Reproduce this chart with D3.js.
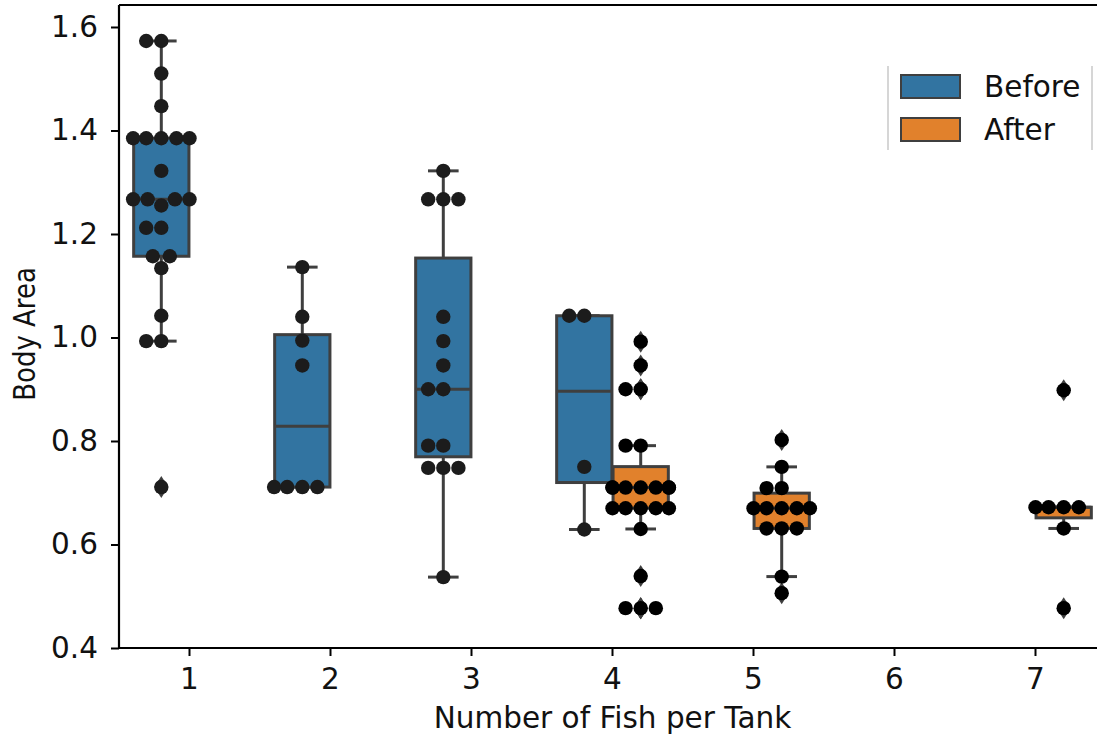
<!DOCTYPE html>
<html>
<head>
<meta charset="utf-8">
<script src="https://cdn.jsdelivr.net/npm/d3@7"></script>
<style>
body { margin: 0; background: #fff; }
text { font-family: "DejaVu Sans", sans-serif; }
</style>
</head>
<body>
<script>
var width = 1097,
    height = 736;

// data
var categories = ["1", "2", "3", "4", "5", "6", "7"];
var hues = ["Before", "After"];
var hueColors = ["#3274a1", "#e1812c"];
var yTicks = [0.4, 0.6, 0.8, 1.0, 1.2, 1.4, 1.6];

var before1 = [1.573, 1.573, 1.51, 1.447, 1.385, 1.385, 1.385, 1.385, 1.385, 1.322,
               1.267, 1.267, 1.267, 1.267, 1.255, 1.212, 1.212, 1.157, 1.157, 1.134,
               1.042, 0.993, 0.993, 0.711];
var before2 = [1.136, 1.040, 0.994, 0.946, 0.711, 0.711, 0.711, 0.711];
var before3 = [1.322, 1.267, 1.267, 1.267, 1.040, 0.993, 0.946, 0.90, 0.90, 0.791,
               0.791, 0.748, 0.748, 0.748, 0.537];
var before4 = [1.042, 1.042, 0.750, 0.629];
var after4 = [0.992, 0.946, 0.90, 0.90, 0.791, 0.791, 0.71, 0.71, 0.71, 0.71, 0.71,
              0.71, 0.71, 0.67, 0.67, 0.67, 0.67, 0.67, 0.63, 0.539, 0.477, 0.477, 0.477];
var after5 = [0.802, 0.750, 0.709, 0.709, 0.67, 0.67, 0.67, 0.67, 0.67, 0.631, 0.631,
              0.631, 0.538, 0.506];
var after7 = [0.898, 0.672, 0.672, 0.672, 0.672, 0.631, 0.477];

var groups = [
    {cat: "1", hue: "Before", values: before1},
    {cat: "2", hue: "Before", values: before2},
    {cat: "3", hue: "Before", values: before3},
    {cat: "4", hue: "Before", values: before4},
    {cat: "4", hue: "After", values: after4},
    {cat: "5", hue: "After", values: after5},
    {cat: "7", hue: "After", values: after7}
];

var margin = {left: 119, right: 1106, top: 5, bottom: 648};
var gray = "#3f3f3f";
var fontSize = "29.5px";

var svg = d3.select("body").append("svg")
    .attr("width", width)
    .attr("height", height);

var x = d3.scaleBand().domain(categories).range([margin.left, margin.right]);
var bw = x.bandwidth();
var hueX = d3.scalePoint().domain(hues).range([-0.2 * bw, 0.2 * bw]);
var color = d3.scaleOrdinal().domain(hues).range(hueColors);
var y = d3.scaleLinear().domain([0.4, 1.6425]).range([margin.bottom, margin.top]);

var boxW = 0.392 * bw;
var dotR = 7.2;

function stats(values) {
    var s = values.slice().sort(d3.ascending);
    var q1 = d3.quantile(s, 0.25), med = d3.quantile(s, 0.5), q3 = d3.quantile(s, 0.75);
    var iqr = q3 - q1;
    var lo = d3.min(s.filter(function(v) { return v >= q1 - 1.5 * iqr; }));
    var hi = d3.max(s.filter(function(v) { return v <= q3 + 1.5 * iqr; }));
    var fliers = s.filter(function(v) { return v < lo || v > hi; });
    return {q1: q1, med: med, q3: q3, lo: lo, hi: hi, fliers: fliers};
}

// seaborn-like beeswarm in pixel space
function beeswarm(values, cx, d, half) {
    var pts = values.slice().sort(d3.ascending).map(function(v) { return [cx, y(v)]; });
    var placed = [pts[0]];
    for (var i = 1; i < pts.length; i++) {
        var yi = pts[i][1];
        var neighbors = [];
        for (var j = placed.length - 1; j >= 0; j--) {
            if (Math.abs(placed[j][1] - yi) < d) neighbors.push(placed[j]);
            else break;
        }
        neighbors.reverse();
        var cands = [[cx, yi]];
        var leftFirst = true;
        neighbors.forEach(function(p) {
            var dy = yi - p[1];
            var dx = Math.sqrt(Math.max(d * d - dy * dy, 0)) * 1.05;
            var cl = [p[0] - dx, yi], cr = [p[0] + dx, yi];
            if (leftFirst) cands.push(cl, cr); else cands.push(cr, cl);
            leftFirst = !leftFirst;
        });
        cands = cands.map(function(c, k) { return {c: c, k: k}; })
            .sort(function(a, b) {
                return (Math.abs(a.c[0] - cx) - Math.abs(b.c[0] - cx)) || (a.k - b.k);
            })
            .map(function(o) { return o.c; });
        var pick = cands.find(function(c) {
            return neighbors.every(function(p) {
                var ddx = c[0] - p[0], ddy = c[1] - p[1];
                return ddx * ddx + ddy * ddy >= d * d - 1e-6;
            });
        });
        placed.push(pick || cands[cands.length - 1]);
    }
    return placed.map(function(p) {
        return [Math.max(cx - half, Math.min(cx + half, p[0])), p[1]];
    });
}

// axes
var yAxis = svg.append("g")
    .attr("transform", "translate(" + margin.left + ",0)")
    .call(d3.axisLeft(y).tickValues(yTicks).tickFormat(d3.format(".1f")).tickSize(8).tickPadding(13));
var xAxis = svg.append("g")
    .attr("transform", "translate(0," + margin.bottom + ")")
    .call(d3.axisBottom(x).tickSize(8).tickPadding(12));
[yAxis, xAxis].forEach(function(a) {
    a.select(".domain").remove();
    a.selectAll(".tick line").attr("stroke", "#000").attr("stroke-width", 2);
    a.selectAll(".tick text").attr("fill", "#111").style("font-size", fontSize)
        .style("font-family", "'DejaVu Sans', sans-serif");
});

svg.append("line").attr("x1", margin.left).attr("x2", margin.left)
    .attr("y1", margin.top).attr("y2", margin.bottom)
    .attr("stroke", "#000").attr("stroke-width", 2.2);
svg.append("line").attr("x1", margin.left).attr("x2", margin.right)
    .attr("y1", margin.bottom).attr("y2", margin.bottom)
    .attr("stroke", "#000").attr("stroke-width", 2.2);
svg.append("line").attr("x1", margin.left).attr("x2", margin.right)
    .attr("y1", margin.top).attr("y2", margin.top)
    .attr("stroke", "#000").attr("stroke-width", 2.2);

svg.append("text")
    .attr("x", (margin.left + margin.right) / 2)
    .attr("y", 728)
    .attr("text-anchor", "middle")
    .style("font-size", fontSize)
    .attr("fill", "#111")
    .text("Number of Fish per Tank");

svg.append("text")
    .attr("transform", "translate(35,334) rotate(-90) scale(1,1.15)")
    .attr("text-anchor", "middle")
    .style("font-size", "26px")
    .attr("fill", "#111")
    .text("Body Area");

// boxes
svg.selectAll(".box")
    .data(groups)
    .enter().append("g")
    .attr("class", "box")
    .each(function(d) {
        var g = d3.select(this);
        var s = stats(d.values);
        var cx = x(d.cat) + bw / 2 + hueX(d.hue);
        d.cx = cx;
        g.append("line").attr("x1", cx).attr("x2", cx)
            .attr("y1", y(s.q3)).attr("y2", y(s.hi))
            .attr("stroke", gray).attr("stroke-width", 3);
        g.append("line").attr("x1", cx).attr("x2", cx)
            .attr("y1", y(s.q1)).attr("y2", y(s.lo))
            .attr("stroke", gray).attr("stroke-width", 3);
        [s.hi, s.lo].forEach(function(v) {
            g.append("line").attr("x1", cx - boxW / 4).attr("x2", cx + boxW / 4)
                .attr("y1", y(v)).attr("y2", y(v))
                .attr("stroke", gray).attr("stroke-width", 3)
                .attr("stroke-linecap", "square");
        });
        g.append("rect")
            .attr("x", cx - boxW / 2).attr("width", boxW)
            .attr("y", y(s.q3)).attr("height", Math.max(y(s.q1) - y(s.q3), 0.5))
            .attr("fill", color(d.hue))
            .attr("stroke", gray).attr("stroke-width", 3);
        g.append("line").attr("x1", cx - boxW / 2).attr("x2", cx + boxW / 2)
            .attr("y1", y(s.med)).attr("y2", y(s.med))
            .attr("stroke", gray).attr("stroke-width", 3);
        g.selectAll(".flier")
            .data(s.fliers)
            .enter().append("path")
            .attr("class", "flier")
            .attr("d", function(v) {
                var yy = y(v);
                return "M" + cx + "," + (yy - 11) + "L" + (cx + 7) + "," + yy +
                    "L" + cx + "," + (yy + 11) + "L" + (cx - 7) + "," + yy + "Z";
            })
            .attr("fill", gray);
    });

// swarm points
groups.forEach(function(d) {
    var pts = beeswarm(d.values, d.cx, 2 * dotR, 0.2 * bw);
    svg.append("g").selectAll("circle")
        .data(pts)
        .enter().append("circle")
        .attr("cx", function(p) { return p[0]; })
        .attr("cy", function(p) { return p[1]; })
        .attr("r", dotR)
        .attr("fill", d.hue == "Before" ? "#1c1c1c" : "#000");
});

// legend
var legend = svg.append("g");
legend.append("line").attr("x1", 888).attr("x2", 888).attr("y1", 66).attr("y2", 150)
    .attr("stroke", "#d6d6d6").attr("stroke-width", 2);
legend.append("line").attr("x1", 1092).attr("x2", 1092).attr("y1", 66).attr("y2", 150)
    .attr("stroke", "#d6d6d6").attr("stroke-width", 2);
hues.forEach(function(h, i) {
    legend.append("rect")
        .attr("x", 901).attr("y", 75 + i * 43)
        .attr("width", 59).attr("height", 23)
        .attr("fill", color(h))
        .attr("stroke", gray).attr("stroke-width", 2);
    legend.append("text")
        .attr("x", 984).attr("y", 97 + i * 43)
        .style("font-size", fontSize)
        .attr("fill", "#111")
        .text(h);
});
</script>
</body>
</html>
